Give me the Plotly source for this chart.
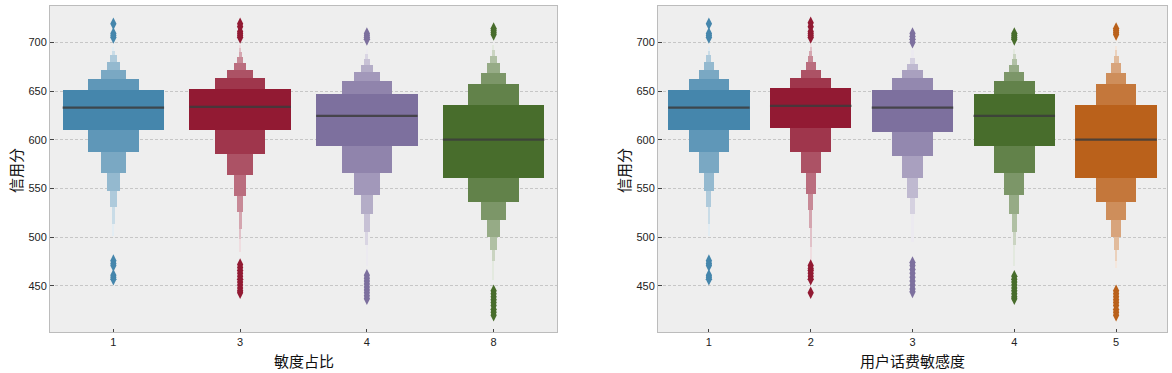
import colorsys
import plotly.graph_objects as go

# ---------------- data ----------------
left_cats = ["1", "3", "4", "8"]
left_medians = [633.0, 633.7, 624.4, 600.2]
left_lower = [
    [610.1, 587.5, 566.0, 547.9, 531.1, 513.7, 501.7],
    [610.1, 585.5, 564.0, 542.4, 526.0, 508.5, 498.3, 484.6],
    [594.0, 566.0, 543.4, 524.0, 505.5, 492.1, 470.0],
    [560.9, 536.2, 517.8, 500.3, 487.0, 475.7, 456.2],
]
left_upper = [
    [651.1, 662.4, 671.6, 679.8, 687.0, 691.1, 695.2],
    [651.8, 663.4, 671.6, 678.8, 685.0, 690.1, 694.2, 697.0],
    [647.0, 660.3, 669.6, 676.8, 682.9, 688.0, 693.2],
    [635.7, 657.3, 668.5, 678.8, 686.0, 692.1, 697.5],
]
left_outliers = [
    [719, 709, 707, 705, 476, 473, 471, 461, 459, 457],
    [719, 716, 711, 709, 707, 705, 472, 469, 466, 463, 460, 457, 454, 451, 448, 445, 443],
    [709, 707, 705, 703, 461, 458, 455, 452, 449, 446, 443, 440, 437],
    [714, 712, 710, 708, 445, 442, 439, 436, 433, 430, 426, 423, 420],
]

right_cats = ["1", "2", "3", "4", "5"]
right_medians = [633.0, 634.7, 633.0, 624.4, 600.2]
right_lower = [
    [610.1, 587.5, 566.0, 547.9, 531.1, 513.7, 501.7],
    [612.1, 587.5, 566.0, 544.4, 528.0, 509.6, 490.0, 472.0],
    [608.0, 583.4, 560.9, 540.3, 523.9, 495.2],
    [594.0, 566.0, 543.4, 524.0, 505.5, 492.1, 470.0],
    [560.9, 536.2, 517.8, 500.3, 487.0, 475.7, 468.2],
]
right_upper = [
    [651.1, 662.4, 671.6, 679.8, 687.0, 691.1, 695.2],
    [653.2, 663.4, 671.6, 679.8, 686.0, 691.1, 695.0, 698.0],
    [651.1, 663.4, 671.6, 677.8, 683.9, 692.1],
    [647.0, 660.3, 669.6, 676.8, 682.9, 688.0, 693.2],
    [635.7, 657.3, 668.5, 678.8, 686.0, 692.1, 696.2],
]
right_outliers = [
    [719, 709, 707, 705, 476, 473, 471, 461, 459, 457],
    [720, 716, 711, 709, 707, 705, 471, 468, 466, 463, 460, 457, 443],
    [709, 706, 703, 700, 474, 471, 467, 463, 459, 455, 451, 447, 444],
    [709, 707, 705, 703, 460, 457, 454, 451, 448, 445, 442, 439, 437],
    [714, 712, 710, 708, 445, 442, 439, 436, 433, 430, 426, 423, 420],
]

left_palette = ["#348ABD", "#A60628", "#7A68A6", "#467821"]
right_palette = ["#348ABD", "#A60628", "#7A68A6", "#467821", "#D55E00"]

y_ticks = [450, 500, 550, 600, 650, 700]
y_range = [402.8, 737.2]


# ---------------- helpers ----------------
def hex_to_rgb(h):
    h = h.lstrip("#")
    return tuple(int(h[i:i + 2], 16) / 255 for i in (0, 2, 4))


def desaturate(h, prop=0.75):
    r, g, b = hex_to_rgb(h)
    hh, l, s = colorsys.rgb_to_hls(r, g, b)
    return colorsys.hls_to_rgb(hh, l, s * prop)


def to_css(rgb):
    return "rgb(%d,%d,%d)" % tuple(round(c * 255) for c in rgb)


def level_color(base, i, n):
    t = 0.85 * (i / max(n - 1, 1))
    return to_css(tuple(c + t * (1 - c) for c in base))


fig = go.Figure()


def add_panel(cats, medians, lowers, uppers, outliers, palette, xa, ya):
    for ci, cat in enumerate(cats):
        base = desaturate(palette[ci])
        n = len(lowers[ci])
        # draw outermost (narrow) levels first, widest last
        for li in reversed(range(n)):
            fig.add_trace(go.Bar(
                x=[ci], y=[uppers[ci][li] - lowers[ci][li]], base=[lowers[ci][li]],
                width=0.8 * 0.5 ** li, marker=dict(color=level_color(base, li, n), line=dict(width=0)),
                xaxis=xa, yaxis=ya, showlegend=False, hoverinfo="skip",
            ))
        fig.add_trace(go.Scatter(
            x=[ci - 0.4, ci + 0.4], y=[medians[ci], medians[ci]], mode="lines",
            line=dict(color="rgba(60,60,60,0.85)", width=2.2),
            xaxis=xa, yaxis=ya, showlegend=False, hoverinfo="skip",
        ))
        fig.add_trace(go.Scatter(
            x=[ci] * len(outliers[ci]), y=outliers[ci], mode="markers",
            marker=dict(symbol="diamond-tall", size=9, color=to_css(base), line=dict(width=0)),
            xaxis=xa, yaxis=ya, showlegend=False, hoverinfo="skip",
        ))


add_panel(left_cats, left_medians, left_lower, left_upper, left_outliers, left_palette, "x", "y")
add_panel(right_cats, right_medians, right_lower, right_upper, right_outliers, right_palette, "x2", "y2")

W, H = 1172, 373
tickfont = dict(family="Liberation Sans, Noto Sans CJK SC", size=11, color="#222222")
common_x = dict(showgrid=False, zeroline=False, showline=True, linecolor="#BCBCBC", mirror=True,
                ticks="inside", ticklen=3, tickcolor="#444444", tickfont=tickfont, fixedrange=True)
common_y = dict(range=y_range, tickvals=y_ticks, showgrid=True, gridcolor="#C6C6C6", griddash="3px,2px",
                gridwidth=0.8, zeroline=False, showline=True, linecolor="#BCBCBC", mirror=True,
                ticks="inside", ticklen=4, tickcolor="#444444", tickfont=tickfont, fixedrange=True)

ydom = [(H - 332) / H, (H - 6) / H]
fig.update_layout(
    width=W, height=H, margin=dict(l=0, r=0, t=0, b=0),
    paper_bgcolor="white", plot_bgcolor="#EEEEEE", barmode="overlay", bargap=0,
    xaxis=dict(domain=[50 / W, 557 / W], range=[-0.5, len(left_cats) - 0.5],
               tickvals=list(range(len(left_cats))), ticktext=left_cats, **common_x),
    yaxis=dict(domain=ydom, anchor="x", **common_y),
    xaxis2=dict(domain=[658 / W, 1167 / W], range=[-0.5, len(right_cats) - 0.5],
                tickvals=list(range(len(right_cats))), ticktext=right_cats, anchor="y2", **common_x),
    yaxis2=dict(domain=ydom, anchor="x2", **common_y),
)

titlefont = dict(family="Noto Sans CJK SC", size=15, color="#111111")
annots = [
    dict(text="敏度占比", x=303.5 / W, y=(H - 360) / H),
    dict(text="用户话费敏感度", x=912.5 / W, y=(H - 360) / H),
]
for a in annots:
    fig.add_annotation(xref="paper", yref="paper", showarrow=False, font=titlefont,
                       xanchor="center", yanchor="middle", **a)
for xc in [15, 623]:
    fig.add_annotation(text="信用分", xref="paper", yref="paper", x=xc / W, y=(H - 171) / H,
                       textangle=-90, showarrow=False, font=titlefont, xanchor="center", yanchor="middle")

fig.write_html("out.html", config={"displayModeBar": False},
               post_script="document.body.style.margin='0';document.body.style.overflow='hidden';")
